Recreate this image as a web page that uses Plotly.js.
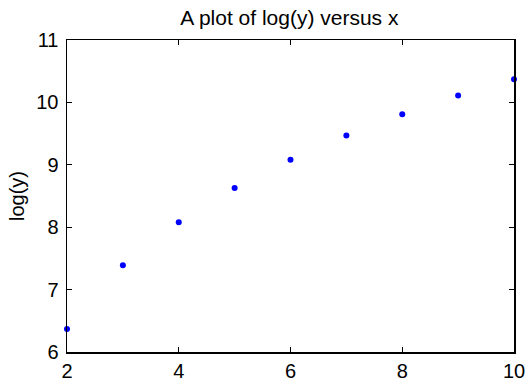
<!DOCTYPE html>
<html>
<head>
<meta charset="utf-8">
<script src="https://cdn.plot.ly/plotly-3.0.1.min.js"></script>
<style>html,body{margin:0;padding:0;background:#fff;}#chart{width:528px;height:383px;}</style>
</head>
<body>
<div id="chart"></div>
<script>
var xValues = [2, 3, 4, 5, 6, 7, 8, 9, 10];
var logYValues = [6.37, 7.39, 8.08, 8.63, 9.08, 9.47, 9.81, 10.11, 10.37];
var xTicks = [2, 4, 6, 8, 10];
var yTicks = [6, 7, 8, 9, 10, 11];

var FONT = 'Liberation Sans, Arial, Helvetica, sans-serif';

var trace = {
  x: xValues,
  y: logYValues,
  mode: 'markers',
  type: 'scatter',
  marker: {color: '#0000ff', size: 6},
  cliponaxis: false,
  hoverinfo: 'none'
};

var axisCommon = {
  showline: true,
  linecolor: '#000',
  linewidth: 1.5,
  mirror: 'ticks',
  ticks: 'inside',
  ticklen: 5,
  tickcolor: '#000',
  tickwidth: 1,
  showgrid: false,
  zeroline: false,
  tickfont: {family: FONT, size: 20, color: '#000'}
};

var layout = {
  width: 528,
  height: 383,
  margin: {l: 67, r: 14, t: 40, b: 31},
  paper_bgcolor: '#fff',
  plot_bgcolor: '#fff',
  showlegend: false,
  title: {
    text: 'A plot of log(y) versus x',
    font: {family: FONT, size: 21, color: '#000'},
    x: 0.548, xanchor: 'center', y: 0.955, yanchor: 'middle', yref: 'container'
  },
  xaxis: Object.assign({}, axisCommon, {
    range: [2, 10],
    tickvals: xTicks,
    ticktext: xTicks.map(String),
    ticklabelstandoff: 0
  }),
  yaxis: Object.assign({}, axisCommon, {
    range: [6, 11],
    tickvals: yTicks,
    ticktext: yTicks.map(String),
    ticklabelstandoff: 3,
    title: {text: 'log(y)', font: {family: FONT, size: 20, color: '#000'}, standoff: 6}
  })
};

Plotly.newPlot('chart', [trace], layout, {displayModeBar: false, staticPlot: true});
</script>
</body>
</html>
